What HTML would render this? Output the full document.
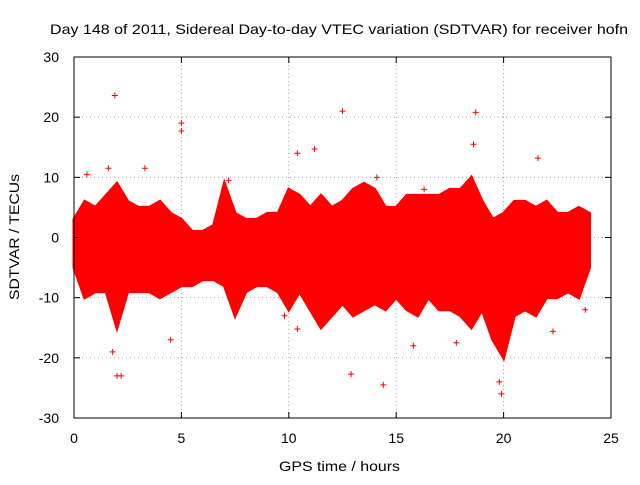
<!DOCTYPE html>
<html><head><meta charset="utf-8"><style>
body{margin:0;background:#fff}
svg text{font-family:"Liberation Sans",sans-serif;font-size:14px;fill:#000}
</style></head><body>
<svg id="chart" width="640" height="480" xmlns="http://www.w3.org/2000/svg">
<rect width="640" height="480" fill="#fff"/>
<text x="50" y="34" textLength="578" lengthAdjust="spacingAndGlyphs" font-size="15">Day 148 of 2011, Sidereal Day-to-day VTEC variation (SDTVAR) for receiver hofn</text>
<g id="grid"></g>
<g id="data"></g>
<rect x="74" y="57" width="537" height="361" fill="none" stroke="#000" stroke-width="1"/>
<g id="ticks"></g>
<text x="279" y="471" textLength="121" lengthAdjust="spacingAndGlyphs" font-size="15">GPS time / hours</text>
<text transform="translate(19,300) rotate(-90)" textLength="126" lengthAdjust="spacingAndGlyphs" font-size="15">SDTVAR / TECUs</text>
</svg>
<script>
const xTicks=[0,5,10,15,20,25];
const yTicks=[-30,-20,-10,0,10,20,30];
const envTimes=[0,0.5,1,1.5,2,2.5,3,3.5,4,4.5,5,5.5,6,6.5,7,7.5,8,8.5,9,9.5,10,10.5,11,11.5,12,12.5,13,13.5,14,14.5,15,15.5,16,16.5,17,17.5,18,18.5,19,19.5,20,20.5,21,21.5,22,22.5,23,23.5,24];
const upper=[3,6,5,7,9,6,5,5,6,4,3,1,1,2,9,4,3,3,4,4,8,7,5,7,5,6,8,9,8,5,5,7,7,7,7,8,8,10,6,3,4,6,6,5,6,4,4,5,4];
const lower=[-5,-10,-9,-9,-15,-9,-9,-9,-10,-9,-8,-8,-7,-7,-8,-13,-9,-8,-8,-9,-12,-9,-12,-15,-13,-11,-13,-12,-11,-12,-10,-12,-13,-10,-12,-12,-13,-15,-12,-17,-20,-13,-12,-13,-10,-10,-9,-10,-5];
const outT=[1.9,5,5,12.5,18.7,18.6,21.6,11.2,10.4,2.0,2.2,12.9,14.4,15.8,19.9,19.8,1.8,10.4,22.3,23.8,0.6,1.6,3.3,14.1,9.8,4.5,17.8,7.2,16.3];
const outV=[23.6,17.7,19,21,20.8,15.5,13.2,14.7,14,-23,-23,-22.7,-24.5,-18,-26,-24,-19,-15.2,-15.6,-12,10.5,11.5,11.5,10,-13,-17,-17.5,9.5,8];
const X0=74,X1=611,Y0=418,Y1=57;
const sx=v=>X0+(v-0)/(25-0)*(X1-X0);
const sy=v=>Y0-(v+30)/60*(Y0-Y1);
const NS="http://www.w3.org/2000/svg";
function mk(t,a,p){const e=document.createElementNS(NS,t);for(const k in a)e.setAttribute(k,a[k]);p.appendChild(e);return e;}
const grid=document.getElementById('grid'),ticks=document.getElementById('ticks'),data=document.getElementById('data');
xTicks.forEach(v=>{
 if(v>0&&v<25){const g=mk('line',{x1:sx(v),x2:sx(v),y1:Y0,y2:Y1,stroke:'#a0a0a0','stroke-dasharray':'1,3'},grid);}
 const t=mk('line',{x1:sx(v),x2:sx(v),y1:Y0,y2:Y0-6,stroke:'#000'},ticks);
 const t2=mk('line',{x1:sx(v),x2:sx(v),y1:Y1,y2:Y1+6,stroke:'#000'},ticks);
 const l=mk('text',{x:sx(v),y:Y0+25,'text-anchor':'middle'},ticks);l.textContent=v;
});
yTicks.forEach(v=>{
 if(v>-30&&v<30){const g=mk('line',{x1:X0,x2:X1,y1:sy(v),y2:sy(v),stroke:'#a0a0a0','stroke-dasharray':'1,3'},grid);}
 const t=mk('line',{x1:X0,x2:X0+6,y1:sy(v),y2:sy(v),stroke:'#000'},ticks);
 const t2=mk('line',{x1:X1,x2:X1-6,y1:sy(v),y2:sy(v),stroke:'#000'},ticks);
 const l=mk('text',{x:X0-15,y:sy(v)+5,'text-anchor':'end'},ticks);l.textContent=v;
});
let pts=envTimes.map((t,i)=>sx(t)+','+sy(upper[i]));
for(let i=envTimes.length-1;i>=0;i--)pts.push(sx(envTimes[i])+','+sy(lower[i]));
const poly=mk('polygon',{points:pts.join(' '),fill:'#ff0000',stroke:'#ff0000','stroke-width':3,'stroke-linejoin':'miter'},data);

outT.forEach((t,i)=>{
 const x=sx(t),y=sy(outV[i]);
 const p=mk('path',{d:`M${x-3},${y}h6M${x},${y-3}v6`,stroke:'#ff0000','stroke-width':1},data);
 
});
</script>
</body></html>
